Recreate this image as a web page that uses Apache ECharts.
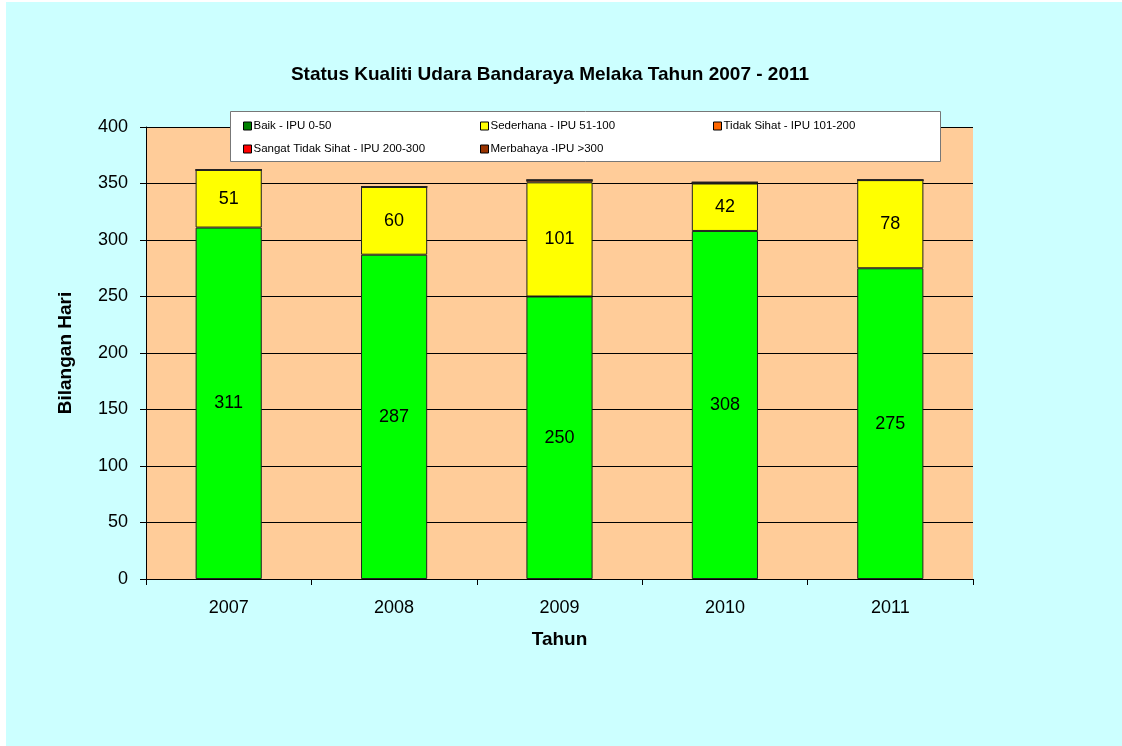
<!DOCTYPE html>
<html>
<head>
<meta charset="utf-8">
<script src="https://cdn.jsdelivr.net/npm/echarts@6/dist/echarts.min.js"></script>
<style>
  html, body { margin: 0; padding: 0; background: #ffffff; }
  #chart { position: absolute; left: 6px; top: 2px; width: 1116px; height: 744px; }
</style>
</head>
<body>
<div id="chart"></div>
<script>
// data
var years = ['2007', '2008', '2009', '2010', '2011']
var baik = [311, 287, 250, 308, 275]
var sederhana = [51, 60, 101, 42, 78]
var tidakSihat = [0, 0, 2, 1, 0]
var sangatTidakSihat = [0, 0, 0, 0, 0]
var merbahaya = [0, 0, 0, 0, 0]
var seriesNames = ['Baik - IPU 0-50', 'Sederhana - IPU 51-100', 'Tidak Sihat - IPU 101-200', 'Sangat Tidak Sihat - IPU 200-300', 'Merbahaya -IPU >300']

var FONT = '"Liberation Sans", Arial, sans-serif'
var barColors = ['#00FF00', '#FFFF00', '#FF6600', '#FF0000', '#993300']
var iconColors = ['#008000', '#FFFF00', '#FF6600', '#FF0000', '#993300']

var chart = echarts.init(document.getElementById('chart'))

function legendAt(idx, left, top) {
  return {
    show: true,
    left: left,
    top: top,
    z: 10,
    padding: 0,
    itemWidth: 8,
    itemHeight: 8,
    itemGap: 4,
    icon: 'rect',
    selectedMode: false,
    textStyle: { fontFamily: FONT, fontSize: 11.5, color: '#000', padding: [0, 0, 0, -3] },
    itemStyle: { borderColor: '#000', borderWidth: 1 },
    data: [{ name: seriesNames[idx], itemStyle: { color: iconColors[idx], borderColor: '#000', borderWidth: 1 } }]
  }
}

function makeSeries(idx, values, showLabel) {
  return {
    name: seriesNames[idx],
    type: 'bar',
    stack: 'total',
    barWidth: '40%',
    data: values,
    itemStyle: { color: barColors[idx], borderColor: '#222', borderWidth: 1 },
    label: {
      show: showLabel,
      position: 'inside',
      color: '#000',
      fontFamily: FONT,
      fontSize: 18,
      formatter: function (p) { return p.value > 0 ? p.value : '' }
    }
  }
}

var option = {
  backgroundColor: '#CCFFFF',
  animation: false,
  title: {
    text: 'Status Kualiti Udara Bandaraya Melaka Tahun 2007 - 2011',
    left: 539,
    top: 58,
    textAlign: 'center',
    textStyle: { fontFamily: FONT, fontSize: 19, fontWeight: 'bold', color: '#000' }
  },
  graphic: [{
    type: 'rect',
    left: 224,
    top: 109,
    shape: { width: 710, height: 50 },
    style: { fill: '#ffffff', stroke: '#777', lineWidth: 1 },
    z: 5
  }],
  legend: [
    legendAt(0, 237, 118),
    legendAt(1, 474, 118),
    legendAt(2, 707, 118),
    legendAt(3, 237, 141),
    legendAt(4, 474, 141)
  ],
  grid: {
    show: true,
    left: 140,
    right: 149,
    top: 125,
    bottom: 167,
    backgroundColor: '#FFCC99',
    borderWidth: 0
  },
  xAxis: {
    type: 'category',
    data: years,
    name: 'Tahun',
    nameLocation: 'middle',
    nameGap: 51,
    nameTextStyle: { fontFamily: FONT, fontSize: 19, fontWeight: 'bold', color: '#000' },
    axisLine: { lineStyle: { color: '#000', width: 1 } },
    axisTick: { show: true, alignWithLabel: false, length: 6, lineStyle: { color: '#000' } },
    axisLabel: { fontFamily: FONT, fontSize: 18, color: '#000', margin: 20 }
  },
  yAxis: {
    type: 'value',
    min: 0,
    max: 400,
    interval: 50,
    name: 'Bilangan Hari',
    nameLocation: 'middle',
    nameGap: 71,
    nameTextStyle: { fontFamily: FONT, fontSize: 19, fontWeight: 'bold', color: '#000' },
    axisLine: { show: true, lineStyle: { color: '#000', width: 1 } },
    axisTick: { show: true, length: 6, lineStyle: { color: '#000' } },
    axisLabel: { fontFamily: FONT, fontSize: 18, color: '#000', margin: 18 },
    splitLine: { show: true, lineStyle: { color: '#000', width: 1 } }
  },
  series: [
    makeSeries(0, baik, true),
    makeSeries(1, sederhana, true),
    makeSeries(2, tidakSihat, false),
    makeSeries(3, sangatTidakSihat, false),
    makeSeries(4, merbahaya, false)
  ]
}

chart.setOption(option)
</script>
</body>
</html>
